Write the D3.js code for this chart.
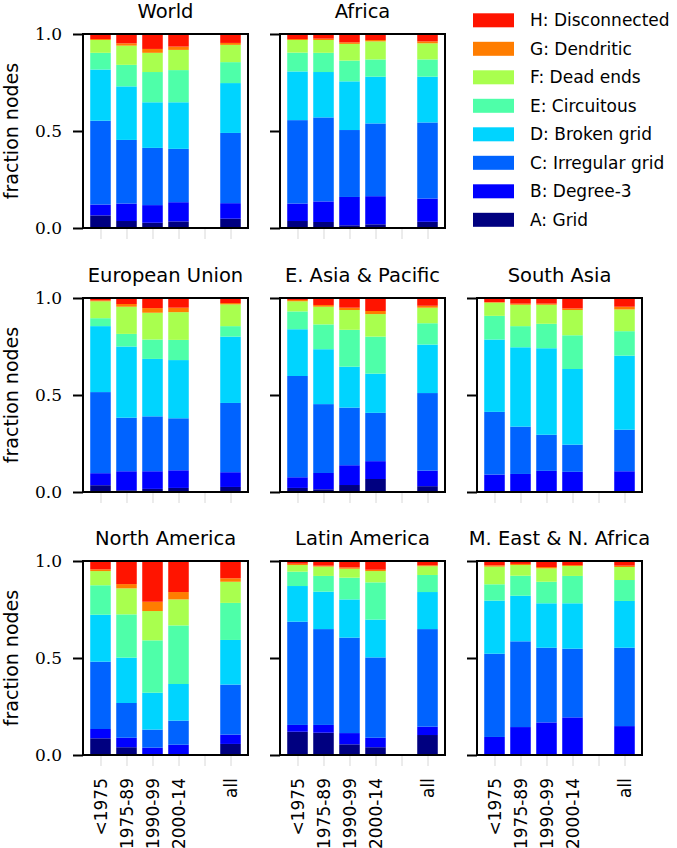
<!DOCTYPE html>
<html><head><meta charset="utf-8">
<script src="https://cdn.jsdelivr.net/npm/d3@7"></script>
<style>body{margin:0;background:#fff}</style>
</head><body><svg id="c" width="677" height="848"></svg>
<script>
const classes = ["A: Grid","B: Degree-3","C: Irregular grid","D: Broken grid","E: Circuitous","F: Dead ends","G: Dendritic","H: Disconnected"];
const classColors = ["#000080","#0000ff","#0063ff","#00d4ff","#4effa9","#a9ff4e","#ff7d00","#ff1400"];
const periods = ["<1975","1975-89","1990-99","2000-14","all"];
const slots = ["<1975","1975-89","1990-99","2000-14","","all"];
const yTicks = [0, 0.5, 1.0];

// per period: fractions A..H
const world = [
  [.065,.056,.432,.264,.086,.066,.005,.026],
  [.036,.090,.328,.276,.111,.099,.012,.048],
  [.027,.091,.295,.235,.156,.099,.020,.077],
  [.034,.099,.275,.240,.166,.104,.017,.065],
  [.048,.080,.362,.257,.108,.089,.010,.046]];
const africa = [
  [.036,.090,.430,.251,.097,.065,.005,.026],
  [.031,.106,.433,.234,.099,.066,.007,.024],
  [.014,.146,.345,.251,.107,.086,.008,.043],
  [.019,.145,.375,.241,.089,.093,.007,.031],
  [.032,.120,.392,.236,.089,.083,.010,.038]];
const europeanUnion = [
  [.035,.062,.418,.340,.041,.087,.005,.012],
  [.009,.098,.276,.367,.065,.140,.014,.031],
  [.016,.091,.283,.296,.100,.138,.024,.052],
  [.021,.091,.268,.300,.104,.143,.023,.050],
  [.026,.076,.357,.342,.054,.112,.007,.026]];
const eastAsia = [
  [.021,.055,.522,.241,.092,.052,.007,.010],
  [.014,.084,.355,.283,.128,.091,.009,.036],
  [.036,.102,.297,.211,.190,.102,.012,.050],
  [.067,.092,.249,.202,.191,.116,.016,.067],
  [.030,.080,.400,.250,.110,.080,.010,.040]];
const southAsia = [
  [.002,.088,.323,.373,.122,.068,.003,.021],
  [.002,.091,.244,.409,.109,.110,.006,.029],
  [.002,.107,.186,.446,.126,.098,.006,.029],
  [.002,.102,.140,.390,.174,.130,.008,.054],
  [.002,.105,.214,.382,.126,.112,.014,.045]];
const northAmerica = [
  [.086,.048,.347,.242,.152,.073,.009,.043],
  [.040,.049,.179,.234,.223,.134,.022,.119],
  [.005,.033,.093,.190,.270,.151,.048,.210],
  [.005,.048,.124,.189,.302,.134,.038,.160],
  [.057,.048,.258,.230,.191,.109,.018,.089]];
const latinAmerica = [
  [.120,.035,.532,.184,.074,.034,.007,.014],
  [.115,.040,.494,.193,.081,.048,.005,.024],
  [.055,.058,.492,.197,.112,.046,.007,.033],
  [.040,.049,.414,.195,.192,.058,.007,.045],
  [.103,.043,.503,.191,.088,.045,.005,.022]];
const middleEast = [
  [.003,.090,.429,.274,.084,.091,.007,.022],
  [.003,.141,.442,.235,.103,.055,.006,.015],
  [.003,.165,.385,.229,.111,.069,.007,.031],
  [.003,.191,.354,.234,.141,.051,.005,.021],
  [.003,.146,.404,.241,.108,.067,.007,.024]];

const regionNames = ["World","Africa","European Union","E. Asia & Pacific","South Asia","North America","Latin America","M. East & N. Africa"];
const regionData = [world, africa, europeanUnion, eastAsia, southAsia, northAmerica, latinAmerica, middleEast];
const regionCells = [[0,0],[0,1],[1,0],[1,1],[1,2],[2,0],[2,1],[2,2]];

const colX = [83, 280, 477];
const rowY = [34, 298, 561];
const PW = 165, PH = 194;
const sans = "'DejaVu Sans', sans-serif";
const serif = "'DejaVu Serif', serif";

const svg = d3.select("#c");
const x = d3.scalePoint().domain(slots).range([0, PW]).padding(0.673);
const barW = x.step() * 0.79;
const y = d3.scaleLinear().domain([0, 1]).range([PH, 0]);

const stack = d3.stack().keys(d3.range(classes.length)).value((d, k) => d.vals[k]);

regionNames.forEach((name, ri) => {
  const [r, c] = regionCells[ri];
  const g = svg.append("g").attr("transform", `translate(${colX[c]},${rowY[r]})`);
  const rows = regionData[ri].map((vals, i) => ({period: periods[i], vals}));
  const series = stack(rows);
  g.selectAll("g.s").data(series).join("g").attr("fill", (d, k) => classColors[k])
    .selectAll("rect").data(d => d).join("rect")
    .attr("x", d => x(d.data.period) - barW / 2)
    .attr("width", barW)
    .attr("y", d => y(Math.min(1, d[1])))
    .attr("height", d => Math.max(0, y(d[0]) - y(Math.min(1, d[1]))));

  // x axis light ticks
  const xa = g.append("g").attr("transform", `translate(0,${PH})`)
    .call(d3.axisBottom(x).tickSize(11).tickFormat(r === 2 ? (d => d) : () => ""));
  xa.select(".domain").remove();
  xa.selectAll(".tick line").attr("stroke", "#d8d8d8").attr("stroke-width", 1);
  xa.selectAll(".tick text")
    .attr("font-family", sans).attr("font-size", 17).attr("fill", "#000")
    .attr("text-anchor", "end").attr("transform", "rotate(-90)")
    .attr("x", -23).attr("y", 0).attr("dy", "0.36em");

  // y axis
  const ya = g.append("g").call(d3.axisLeft(y).tickValues(yTicks).tickSize(10)
    .tickFormat(c === 0 ? d3.format(".1f") : () => ""));
  ya.attr("font-family", serif);
  ya.select(".domain").remove();
  ya.selectAll(".tick line").attr("stroke", "#000").attr("stroke-width", 2);
  ya.selectAll(".tick text").attr("font-family", serif).attr("font-size", 17)
    .attr("fill", "#000").attr("x", -21);

  // frame
  g.append("rect").attr("x", 0).attr("y", 0).attr("width", PW).attr("height", PH)
    .attr("fill", "none").attr("stroke", "#000").attr("stroke-width", 2);

  // title
  g.append("text").attr("x", PW / 2).attr("y", -16).attr("text-anchor", "middle")
    .attr("font-family", sans).attr("font-size", 19.5).text(name);

  if (c === 0) {
    svg.append("text")
      .attr("transform", `translate(18,${rowY[r] + PH / 2}) rotate(-90)`)
      .attr("text-anchor", "middle").attr("font-family", sans).attr("font-size", 19)
      .text("fraction nodes");
  }
});

// legend
const leg = svg.append("g");
const order = d3.range(classes.length).reverse();
order.forEach((k, i) => {
  const cy = 20.3 + i * 28.5;
  leg.append("rect").attr("x", 473).attr("y", cy - 7).attr("width", 41).attr("height", 14)
    .attr("fill", classColors[k]);
  leg.append("text").attr("x", 530).attr("y", cy).attr("dy", "0.36em")
    .attr("font-family", sans).attr("font-size", 17).text(classes[k]);
});
</script></body></html>
